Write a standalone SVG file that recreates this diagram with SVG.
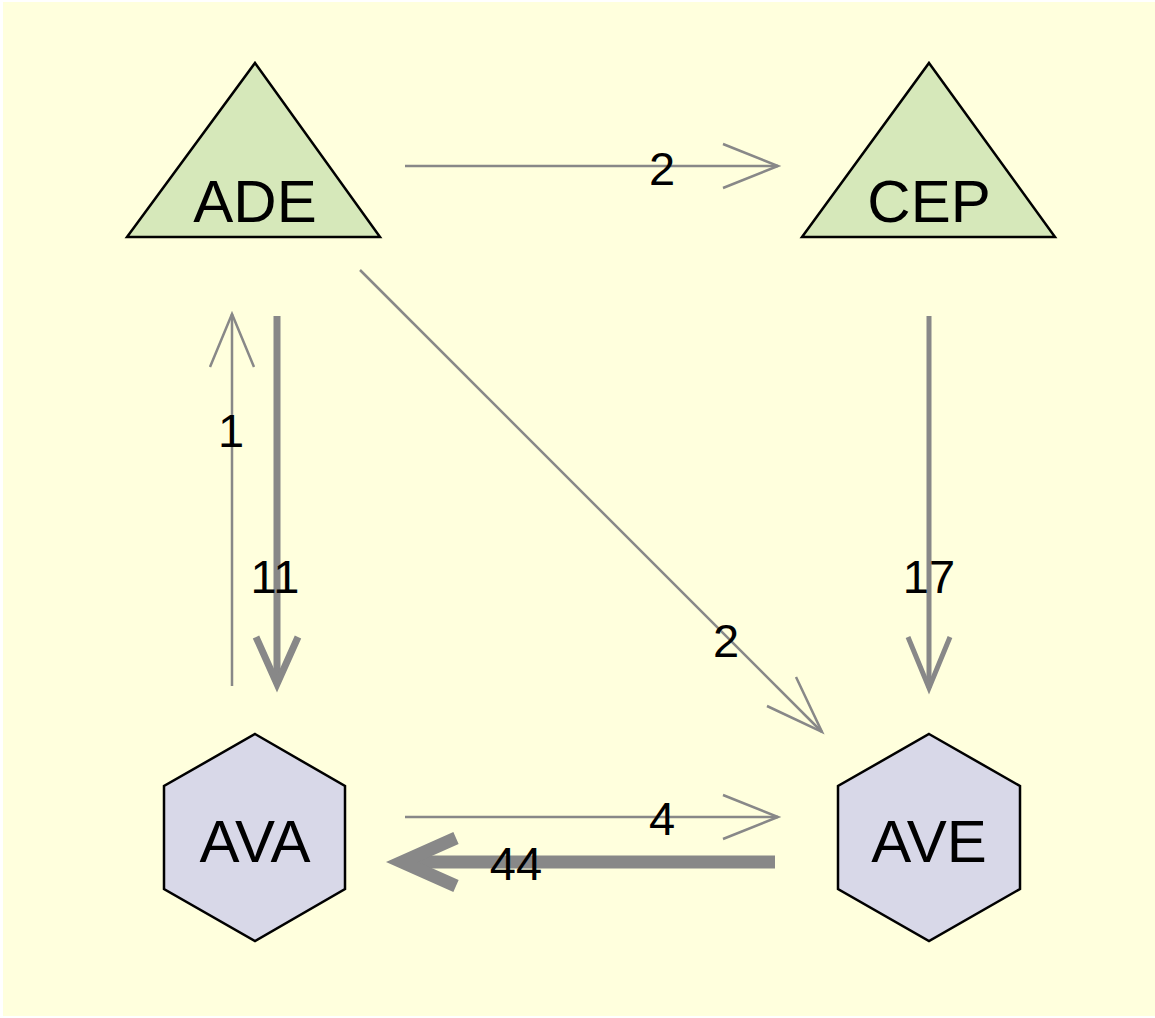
<svg xmlns="http://www.w3.org/2000/svg" width="1155" height="1018" viewBox="0 0 1155 1018">
  <style>
    .edge { fill: none; stroke: #888888; stroke-linejoin: miter; stroke-linecap: butt; }
    .thin { stroke-width: 2.5; }
    .tri { fill: #D6E8BA; stroke: #000000; stroke-width: 2.5; stroke-linejoin: miter; }
    .hex { fill: #D8D8E8; stroke: #000000; stroke-width: 2.5; stroke-linejoin: miter; }
    .name { font-family: "Liberation Sans", Arial, sans-serif; font-size: 60px; fill: #000000; text-anchor: middle; }
    .weight { font-family: "Liberation Sans", Arial, sans-serif; font-size: 47px; fill: #000000; text-anchor: middle; }
  </style>
  <rect x="0" y="0" width="1155" height="1018" fill="#FFFFFF"/>
  <rect x="3" y="2" width="1152" height="1014" fill="#FFFFDD"/>

  <g id="connectors">
    <!-- ADE -> CEP -->
    <g id="e-ADE-CEP">
      <line class="edge thin" x1="405" y1="166" x2="778" y2="166"/>
      <polyline class="edge thin" points="723,144 778,166 723,188"/>
      <text class="weight" x="662" y="185">2</text>
    </g>
    <!-- AVA -> ADE -->
    <g id="e-AVA-ADE">
      <line class="edge thin" x1="232" y1="686" x2="232" y2="314"/>
      <polyline class="edge thin" points="210,367 232,314 254,367"/>
      <text class="weight" x="231" y="447">1</text>
    </g>
    <!-- ADE -> AVA -->
    <g id="e-ADE-AVA">
      <line class="edge" stroke-width="7" x1="277" y1="316" x2="277" y2="684"/>
      <polyline class="edge" stroke-width="7" points="256,637 277,684 298,637"/>
      <text class="weight" x="275" y="593">11</text>
    </g>
    <!-- CEP -> AVE -->
    <g id="e-CEP-AVE">
      <line class="edge" stroke-width="5" x1="929" y1="316" x2="929" y2="688"/>
      <polyline class="edge" stroke-width="5" points="908,637 929,688 950,637"/>
      <text class="weight" x="929" y="593">17</text>
    </g>
    <!-- ADE -> AVE -->
    <g id="e-ADE-AVE">
      <line class="edge thin" x1="360" y1="270" x2="822" y2="732"/>
      <polyline class="edge thin" points="767,706 822,732 796,677"/>
      <text class="weight" x="726" y="657">2</text>
    </g>
    <!-- AVA -> AVE -->
    <g id="e-AVA-AVE">
      <line class="edge thin" x1="405" y1="817" x2="778" y2="817"/>
      <polyline class="edge thin" points="723,795 778,817 723,839"/>
      <text class="weight" x="662" y="835">4</text>
    </g>
    <!-- AVE -> AVA -->
    <g id="e-AVE-AVA">
      <line class="edge" stroke-width="13" x1="775" y1="862" x2="402" y2="862"/>
      <polyline class="edge" stroke-width="13" points="456,838 402,862 456,886"/>
      <text class="weight" x="516" y="880">44</text>
    </g>
  </g>

  <g id="ADE">
    <polygon class="tri" points="255,63 380,237 127,237"/>
    <text class="name" x="255" y="222">ADE</text>
  </g>
  <g id="CEP">
    <polygon class="tri" points="929,63 1055,237 802,237"/>
    <text class="name" x="929" y="222">CEP</text>
  </g>
  <g id="AVA">
    <polygon class="hex" points="255,734 345,786 345,889 255,941 164,889 164,786"/>
    <text class="name" x="255" y="862">AVA</text>
  </g>
  <g id="AVE">
    <polygon class="hex" points="929,734 1020,786 1020,889 929,941 838,889 838,786"/>
    <text class="name" x="929" y="862">AVE</text>
  </g>
</svg>
